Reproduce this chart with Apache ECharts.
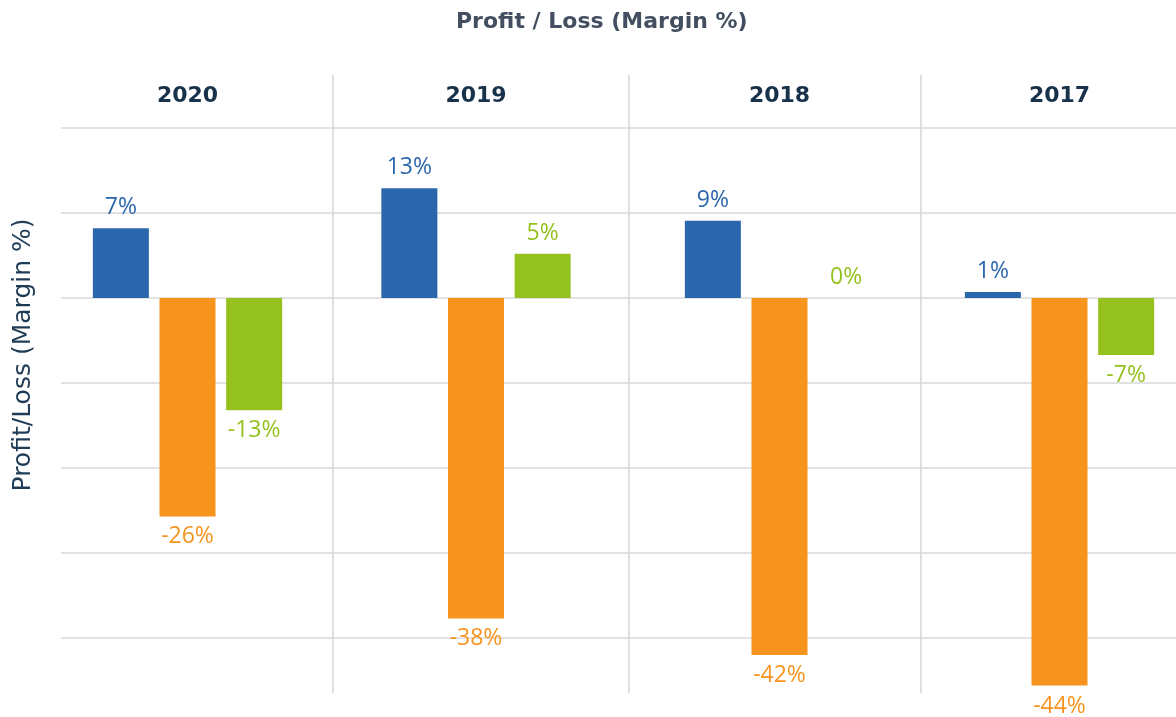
<!DOCTYPE html>
<html>
<head>
<meta charset="utf-8">
<script src="https://cdn.jsdelivr.net/npm/echarts@6/dist/echarts.min.js"></script>
<style>
html,body{margin:0;padding:0;background:#fff;}
#chart{width:1176px;height:717px;}
</style>
</head>
<body>
<div id="chart"></div>
<script>
// ---- data ----
const years = ['2020', '2019', '2018', '2017'];
const seriesNames = ['Series A', 'Series B', 'Series C'];
const valuesBlue   = [8.2, 12.9, 9.1, 0.7];
const valuesOrange = [-25.7, -37.7, -42.0, -45.6];
const valuesGreen  = [-13.2, 5.2, 0.0, -6.7];
const labelsBlue   = ['7%', '13%', '9%', '1%'];
const labelsOrange = ['-26%', '-38%', '-42%', '-44%'];
const labelsGreen  = ['-13%', '5%', '0%', '-7%'];
const yTicks = { min: -40, max: 20, interval: 10 };

// ---- styles / layout ----
const colors = ['#2A66AC', '#F7941E', '#95C11F'];
const groupCenters = [187.5, 476, 779.5, 1059.5];
const separators = [333, 629, 921];
const gridTop = 128, gridBottom = 79;
const font = 'DejaVu Sans';
const labelFont = 'Open Sans';

const allValues = [valuesBlue, valuesOrange, valuesGreen];
const allLabels = [labelsBlue, labelsOrange, labelsGreen];

const grids = [{ left: 61, right: 0, top: gridTop, bottom: gridBottom }];
const xAxes = [{ gridIndex: 0, type: 'value', min: 0, max: 1, show: false }];
const yAxes = [{
  gridIndex: 0, type: 'value', min: yTicks.min, max: yTicks.max, interval: yTicks.interval,
  axisLine: { show: false }, axisTick: { show: false }, axisLabel: { show: false },
  splitLine: { show: true, lineStyle: { color: '#d9d9d9', width: 1.5 } }
}];
const series = [];

years.forEach((yr, i) => {
  const gi = i + 1;
  grids.push({ left: groupCenters[i] - 100, width: 200, top: gridTop, bottom: gridBottom });
  xAxes.push({
    gridIndex: gi, type: 'category', data: [yr], position: 'top',
    axisLine: { show: false }, axisTick: { show: false },
    axisLabel: { margin: 21, fontFamily: font, fontWeight: 'bold', fontSize: 22, color: '#17324a' }
  });
  yAxes.push({
    gridIndex: gi, type: 'value', min: yTicks.min, max: yTicks.max, interval: yTicks.interval,
    show: false, splitLine: { show: false }
  });
  allValues.forEach((vals, s) => {
    const v = vals[i];
    series.push({
      type: 'bar', name: seriesNames[s], xAxisIndex: gi, yAxisIndex: gi,
      barWidth: 56, barGap: '19%', clip: false, silent: true,
      itemStyle: { color: colors[s] },
      data: [{
        value: v,
        label: {
          show: true, position: v < 0 ? 'bottom' : 'top', distance: 9,
          formatter: allLabels[s][i],
          color: colors[s], fontFamily: labelFont, fontSize: 23, fontWeight: 'normal'
        }
      }]
    });
  });
});

const graphic = separators.map(x => ({
  type: 'line', silent: true,
  shape: { x1: x, y1: 75, x2: x, y2: 693 },
  style: { stroke: '#d6d6d6', lineWidth: 1.5 }
}));
graphic.push({
  type: 'text', x: 23, y: 355, rotation: Math.PI / 2,
  style: {
    text: 'Profit/Loss (Margin %)', fill: '#1f3b55', fontFamily: font, fontSize: 25,
    align: 'center', verticalAlign: 'middle'
  }
});

const chart = echarts.init(document.getElementById('chart'));
chart.setOption({
  animation: false,
  backgroundColor: '#ffffff',
  title: {
    text: 'Profit / Loss (Margin %)', left: 451, top: 6,
    textStyle: { fontFamily: font, fontWeight: 'bold', fontSize: 22, color: '#434f60' }
  },
  grid: grids, xAxis: xAxes, yAxis: yAxes, series: series, graphic: graphic
});
</script>
</body>
</html>
